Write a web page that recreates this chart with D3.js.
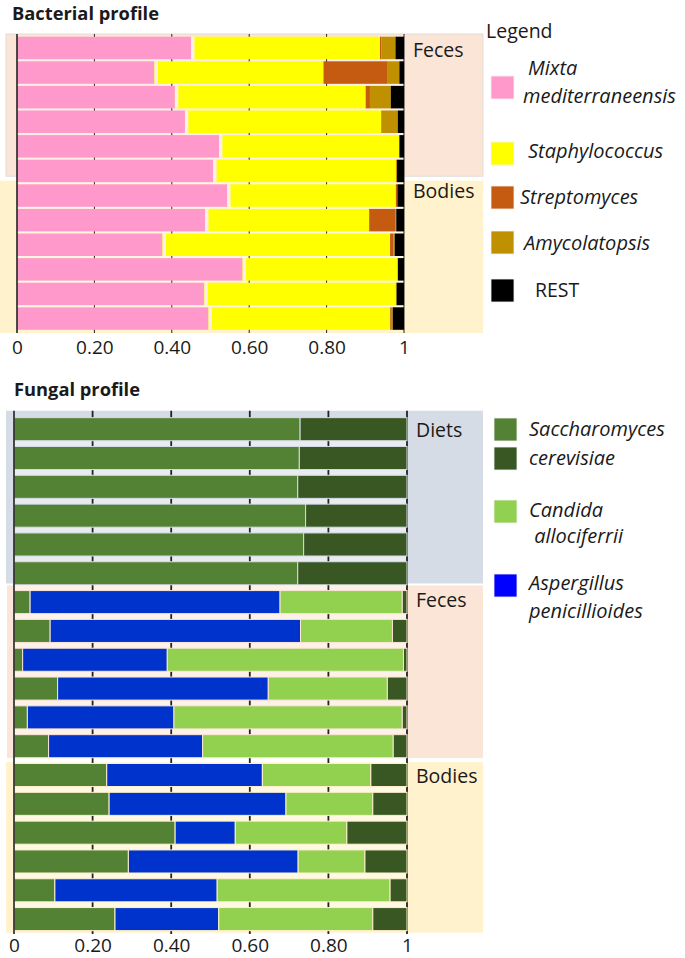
<!DOCTYPE html>
<html><head><meta charset="utf-8">
<script src="https://cdn.jsdelivr.net/npm/d3@7"></script>
<style>
body{margin:0;background:#fff;}
svg{display:block;font-family:"Open Sans",Lato,sans-serif;}
</style>
</head><body>
<svg id="c" width="685" height="958"></svg>
<script>
// ---------------- DATA ----------------
const tickValues = [0, 0.2, 0.4, 0.6, 0.8, 1];
const tickLabels = ["0", "0.20", "0.40", "0.60", "0.80", "1"];

// Bacterial profile (12 samples, top to bottom)
const bactSamples = ["F1","F2","F3","F4","F5","F6","B1","B2","B3","B4","B5","B6"];
const bactGroup   = ["Feces","Feces","Feces","Feces","Feces","Feces","Bodies","Bodies","Bodies","Bodies","Bodies","Bodies"];
const bactKeys    = ["Mixta mediterraneensis","Staphylococcus","Streptomyces","Amycolatopsis","REST"];
const mixta   = [0.450,0.355,0.408,0.434,0.522,0.507,0.543,0.486,0.376,0.583,0.484,0.495];
const staph   = [0.488,0.437,0.493,0.507,0.466,0.472,0.436,0.424,0.588,0.401,0.495,0.469];
const strepto = [0.003,0.166,0.011,0.000,0.000,0.000,0.004,0.067,0.008,0.000,0.000,0.002];
const amyco   = [0.037,0.030,0.054,0.043,0.000,0.003,0.000,0.003,0.004,0.000,0.002,0.005];
const rest    = [0.022,0.012,0.034,0.016,0.012,0.018,0.017,0.020,0.024,0.016,0.019,0.029];
const bactColors = ["#ff99cc","#ffff00","#c55a11","#bf9000","#000000"];
const bactLegendLines = [["Mixta","mediterraneensis"],["Staphylococcus"],["Streptomyces"],["Amycolatopsis"],["REST"]];

// Fungal profile (18 samples, top to bottom)
const fungSamples = ["D1","D2","D3","D4","D5","D6","F1","F2","F3","F4","F5","F6","B1","B2","B3","B4","B5","B6"];
const fungGroup   = ["Diets","Diets","Diets","Diets","Diets","Diets","Feces","Feces","Feces","Feces","Feces","Feces","Bodies","Bodies","Bodies","Bodies","Bodies","Bodies"];
const fungKeys    = ["Saccharomyces A","Aspergillus","Candida","Saccharomyces B"];
const sacchA  = [0.728,0.726,0.722,0.742,0.737,0.722,0.041,0.092,0.022,0.111,0.034,0.088,0.236,0.242,0.410,0.291,0.104,0.257];
const asperg  = [0,0,0,0,0,0,0.636,0.637,0.368,0.536,0.373,0.392,0.396,0.450,0.153,0.432,0.413,0.264];
const candida = [0,0,0,0,0,0,0.311,0.234,0.601,0.303,0.581,0.485,0.276,0.221,0.284,0.170,0.440,0.392];
const sacchB  = [0.272,0.274,0.278,0.258,0.263,0.278,0.012,0.037,0.009,0.050,0.012,0.035,0.092,0.087,0.153,0.107,0.043,0.087];
const fungColors = ["#548235","#0033cc","#92d050","#385723"];
const fungLegendColors = ["#548235","#385723","#92d050","#0000ff"];
const fungLegendLines = [["Saccharomyces","cerevisiae"],["Candida"," allociferrii"],["Aspergillus","penicillioides"]];

const regionFill = {Feces:"#fbe5d6", Bodies:"#fff2cc", Diets:"#d6dce5"};

// ---------------- DRAW ----------------
const svg = d3.select("#c");
const ink = "#1a1a1a";
const FONT = "'Open Sans', Lato, sans-serif";

function panel(o){
  const g = svg.append("g");
  const x = d3.scaleLinear().domain([0,1]).range(o.xRange);
  const y = d3.scaleBand().domain(o.samples).range(o.yRange).paddingInner(o.pad).paddingOuter(o.pad);
  const bw = y.bandwidth();
  const rows = o.samples.map((s,i)=>{const r={sample:s}; o.keys.forEach((k,j)=>r[k]=o.series[j][i]); return r;});
  const stack = d3.stack().keys(o.keys).order(d3.stackOrderNone).offset(d3.stackOffsetNone)(rows);

  const groups = [];
  o.samples.forEach((s,i)=>{
    const gname=o.group[i];
    if(!groups.length || groups[groups.length-1].name!==gname) groups.push({name:gname,first:s,last:s});
    else groups[groups.length-1].last=s;
  });
  groups.forEach((gr,k)=>{
    const top = k===0 ? o.yRange[0]+o.outerTop : (y(groups[k-1].last)+bw+y(gr.first))/2 + o.gapStart[k];
    const bot = k===groups.length-1 ? o.yRange[1]+o.outerBottom : (y(gr.last)+bw+y(groups[k+1].first))/2 + o.gapEnd[k];
    gr.top=top; gr.bot=bot;
    g.append("rect").attr("x",o.regionLeft[k]).attr("y",top)
      .attr("width",o.regionRight-o.regionLeft[k]).attr("height",bot-top)
      .attr("fill",regionFill[gr.name])
      .attr("stroke",o.regionStroke[k]||"none").attr("stroke-width",1);
    g.append("text").attr("x",o.labelX).attr("y",top+o.labelDy[k])
      .attr("font-size",19.5).attr("fill",ink).text(gr.name);
  });
  g.append("rect").attr("x",x(0)).attr("y",y(o.samples[0]))
    .attr("width",x(1)-x(0)).attr("height",y(o.samples[o.samples.length-1])+bw-y(o.samples[0]))
    .attr("fill","#ffffff").attr("opacity",o.stripOpacity);
  const yTop = groups[0].top;
  g.selectAll("line.grid").data(tickValues.slice(1)).join("line")
    .attr("x1",d=>x(d)).attr("x2",d=>x(d)).attr("y1",yTop).attr("y2",o.gridBottom)
    .attr("stroke","#222").attr("stroke-width",o.gridWidth);
  stack.forEach((layer,j)=>{
    g.selectAll(null).data(layer.filter(d=>d[1]-d[0]>0)).join("rect")
      .attr("x",d=>x(d[0])).attr("y",d=>y(d.data.sample))
      .attr("width",d=>x(d[1])-x(d[0])).attr("height",bw)
      .attr("fill",o.colors[j])
      .attr("stroke",o.barStroke ? (d=>regionFill[o.group[o.samples.indexOf(d.data.sample)]]) : "none")
      .attr("stroke-width",o.barStroke||0);
  });
  if(o.separator){
    g.selectAll(null).data(stack[0]).join("line")
      .attr("x1",d=>x(d[1])+1.8).attr("x2",d=>x(d[1])+1.8)
      .attr("y1",d=>y(d.data.sample)).attr("y2",d=>y(d.data.sample)+bw)
      .attr("stroke","#fdf1e7").attr("stroke-width",3.2);
  }
  g.append("line").attr("x1",x(0)).attr("x2",x(0)).attr("y1",yTop).attr("y2",o.gridBottom)
    .attr("stroke","#222").attr("stroke-width",1.6);
  const ax = d3.axisBottom(x).tickValues(tickValues).tickFormat((d,i)=>tickLabels[i]).tickSize(0);
  const axg = g.append("g").attr("transform",`translate(0,${o.tickY})`).call(ax);
  axg.select(".domain").remove();
  axg.selectAll("text").attr("font-family",FONT)
    .attr("font-size",19).attr("fill",ink).attr("dy",0).attr("y",0);
}

svg.append("text").attr("x",12).attr("y",19.5).attr("font-size",18.3).attr("font-weight",700).attr("fill",ink).text("Bacterial profile");
svg.append("text").attr("x",14).attr("y",396).attr("font-size",18.3).attr("font-weight",700).attr("fill",ink).text("Fungal profile");

panel({
  samples:bactSamples, group:bactGroup, keys:bactKeys,
  series:[mixta,staph,strepto,amyco,rest], colors:bactColors,
  xRange:[17,404], yRange:[34.6,331.9], pad:0.085,
  outerTop:-0.6, outerBottom:1.1, gapStart:[0,-2.6], gapEnd:[-7,0],
  regionLeft:[6,0], regionRight:483, regionStroke:["#e4dcd6",null],
  labelX:413, labelDy:[22.5,17.5], stripOpacity:0.4, gridWidth:1, gridBottom:333,
  barStroke:0, separator:true, tickY:354
});

panel({
  samples:fungSamples, group:fungGroup, keys:fungKeys,
  series:[sacchA,asperg,candida,sacchB], colors:fungColors,
  xRange:[14,407], yRange:[411.9,936.4], pad:0.2,
  outerTop:-1.2, outerBottom:-3.7, gapStart:[0,-2.2,1.5], gapEnd:[-4.2,-2.5,0],
  regionLeft:[6,7,6], regionRight:483, regionStroke:[null,null,null],
  labelX:416, labelDy:[26,21.5,21], stripOpacity:0.45, gridWidth:1.8, gridBottom:934,
  barStroke:1, separator:false, tickY:952
});

svg.append("text").attr("x",486).attr("y",38).attr("font-size",19.5).attr("fill",ink).text("Legend");
const bSwY = [76,142,186,231,279];
const bTxt = [[{x:528,y:75},{x:523,y:103}],[{x:528,y:158}],[{x:520,y:204}],[{x:524,y:250}],[{x:535,y:296.5}]];
bactKeys.forEach((k,i)=>{
  svg.append("rect").attr("x",491).attr("y",bSwY[i]).attr("width",23).attr("height",23)
    .attr("fill",bactColors[i]).attr("stroke","#f2f2f2").attr("stroke-width",0.8);
  bactLegendLines[i].forEach((t,j)=>{
    svg.append("text").attr("x",bTxt[i][j].x).attr("y",bTxt[i][j].y).attr("font-size",i===4?19.5:20)
      .attr("font-style",i===4?"normal":"italic").attr("fill",ink).text(t);
  });
});

const fSwY = [418,447,500,574];
fungLegendColors.forEach((c,i)=>{
  svg.append("rect").attr("x",494).attr("y",fSwY[i]).attr("width",23).attr("height",23)
    .attr("fill",c).attr("stroke","#f2f2f2").attr("stroke-width",0.8);
});
const fTxt = [[{x:529,y:436},{x:529,y:465}],[{x:529,y:516.5},{x:529,y:543}],[{x:529,y:590},{x:529,y:618}]];
fungLegendLines.forEach((lines,i)=>{
  lines.forEach((t,j)=>{
    svg.append("text").attr("x",fTxt[i][j].x).attr("y",fTxt[i][j].y).attr("font-size",20)
      .attr("font-style","italic").attr("fill",ink).style("white-space","pre").text(t);
  });
});
</script>
</body></html>
